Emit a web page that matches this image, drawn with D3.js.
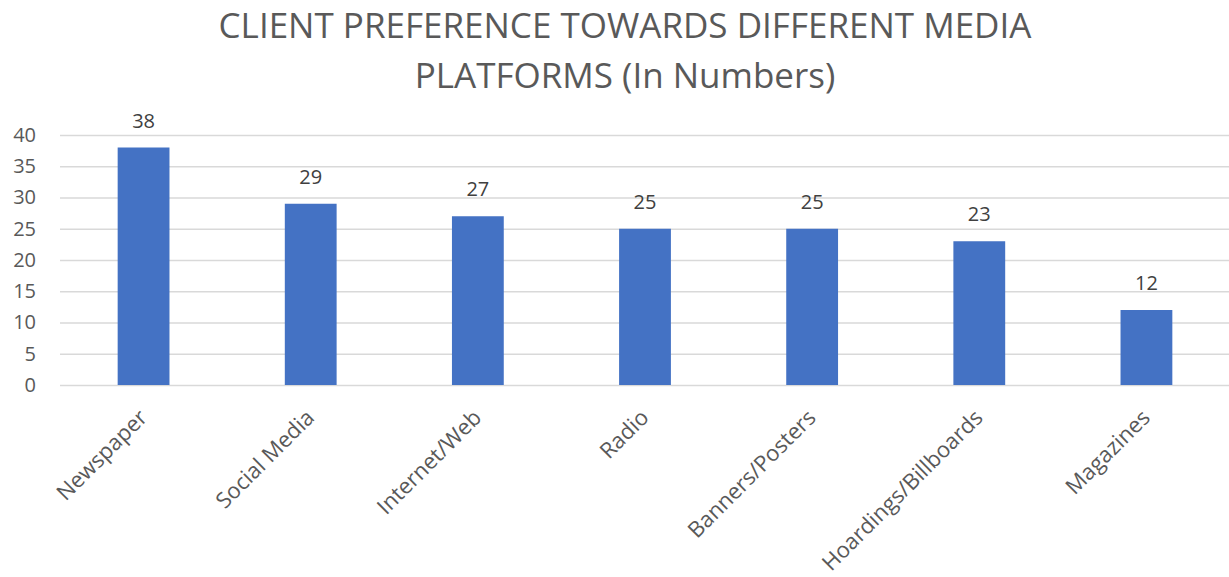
<!DOCTYPE html>
<html><head><meta charset="utf-8">
<script src="https://cdn.jsdelivr.net/npm/d3@7"></script>
<style>body{margin:0;background:#fff}svg{display:block}</style>
</head><body>
<svg id="chart" width="1229" height="577"></svg>
<script>
const categories = ["Newspaper","Social Media","Internet/Web","Radio","Banners/Posters","Hoardings/Billboards","Magazines"];
const values = [38,29,27,25,25,23,12];
const yTicks = [0,5,10,15,20,25,30,35,40];
const titleLines = ["CLIENT PREFERENCE TOWARDS DIFFERENT MEDIA","PLATFORMS (In Numbers)"];

(function(){
const svg = d3.select("#chart");
const font = "'Open Sans', sans-serif";
const mLeft = 60, mRight = 1230, mTop = 135, mBottom = 385;

const x = d3.scaleBand().domain(categories).range([mLeft, mRight]).paddingInner(0.69).paddingOuter(0.345);
const y = d3.scaleLinear().domain([0,40]).range([mBottom, mTop]);

svg.append("g").selectAll("text").data(titleLines).join("text")
  .attr("x", 625).attr("y", (d,i)=>38+i*50)
  .attr("text-anchor","middle").attr("font-family",font).attr("font-size",35)
  .attr("fill","#595959").text(d=>d);

const yAxis = svg.append("g").attr("transform",`translate(${mLeft},0)`)
  .call(d3.axisLeft(y).tickValues(yTicks).tickSize(-(mRight-mLeft)).tickPadding(24));
yAxis.select(".domain").remove();
yAxis.selectAll(".tick line").attr("stroke","#d9d9d9").attr("stroke-width",1.3);
yAxis.selectAll(".tick text").attr("font-family",font).attr("font-size",20).attr("fill","#595959");

svg.append("g").selectAll("rect").data(values).join("rect")
  .attr("x",(d,i)=>x(categories[i])).attr("width",x.bandwidth())
  .attr("y",d=>y(d)).attr("height",d=>y(0)-y(d)).attr("fill","#4472c4");

svg.append("g").selectAll("text").data(values).join("text")
  .attr("x",(d,i)=>x(categories[i])+x.bandwidth()/2).attr("y",d=>y(d)-20)
  .attr("text-anchor","middle").attr("font-family",font).attr("font-size",20)
  .attr("fill","#404040").text(d=>d);

const xAxis = svg.append("g").attr("transform",`translate(0,${mBottom})`)
  .call(d3.axisBottom(x).tickSize(0).tickPadding(0));
xAxis.select(".domain").remove();
xAxis.selectAll(".tick text")
  .attr("font-family",font).attr("font-size",22).attr("fill","#595959")
  .attr("text-anchor","end").attr("dy",0)
  .attr("transform","translate(5,34) rotate(-45)");
})();
</script>
</body></html>
